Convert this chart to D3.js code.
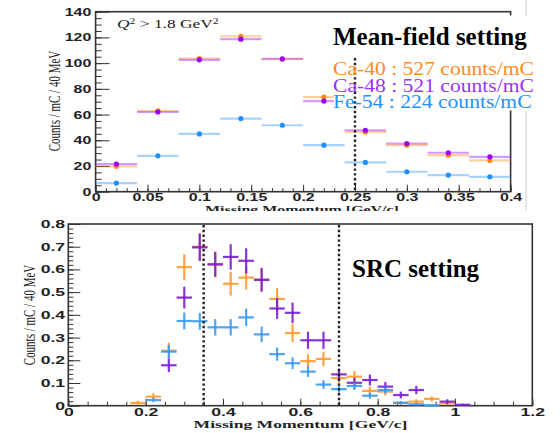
<!doctype html>
<html lang="en">
<head>
	<meta charset="UTF-8">
	<title>missing momentum</title>
	<script src="https://cdn.jsdelivr.net/npm/d3@7"></script>
	<style>
		body { margin: 0; background: #fff; }
		svg { display: block; font-family: "Liberation Serif", "DejaVu Serif", serif; }
		.axis .tick text { font-size: 11px; font-weight: bold; fill: #222; }
		.axis .tick line { stroke: #333; }
		.axis .domain { display: none; }
	</style>
</head>
<body>
<script>
	// ---- mean-field setting (top) ----
	var mfBins  = [0.02, 0.06, 0.10, 0.14, 0.18, 0.22, 0.26, 0.30, 0.34, 0.38];
	var mfCa40  = [19.7, 62.8, 103.6, 120.9, 103.0, 73.6, 46.5, 36.2, 28.4, 24.3];
	var mfCa48  = [21.5, 62.0, 102.6, 118.6, 103.4, 70.5, 47.8, 37.5, 30.3, 27.1];
	var mfFe54  = [6.7, 27.9, 44.9, 56.9, 51.7, 36.2, 22.8, 15.5, 12.9, 11.6];
	var mfXTicks = [0, 0.05, 0.1, 0.15, 0.2, 0.25, 0.3, 0.35, 0.4];
	var mfYTicks = [0, 20, 40, 60, 80, 100, 120, 140];

	// ---- SRC setting (bottom) ----
	var srcBins = [0.18, 0.22, 0.26, 0.30, 0.34, 0.38, 0.42, 0.46, 0.50, 0.54, 0.58,
		0.62, 0.66, 0.70, 0.74, 0.78, 0.82, 0.86, 0.90, 0.94, 0.98, 1.02];
	var srcCa40    = [0.012, 0.040, 0.242, 0.610, 0.700, 0.620, 0.537, 0.564, 0.555, 0.470, 0.320,
		0.196, 0.206, 0.122, 0.128, 0.065, 0.062, 0.012, 0.018, 0.030, 0.010, null];
	var srcCa40Err = [0.010, 0.015, 0.035, 0.057, 0.060, 0.055, 0.052, 0.053, 0.052, 0.048, 0.040,
		0.031, 0.032, 0.025, 0.025, 0.018, 0.018, 0.008, 0.010, 0.012, 0.007, null];
	var srcCa48    = [null, null, 0.178, 0.476, 0.697, 0.623, 0.655, 0.638, 0.554, 0.428, 0.409,
		0.288, 0.288, 0.138, 0.101, 0.113, 0.084, 0.047, 0.069, null, 0.018, 0.004];
	var srcCa48Err = [null, null, 0.030, 0.048, 0.060, 0.055, 0.056, 0.055, 0.052, 0.046, 0.045,
		0.038, 0.038, 0.026, 0.022, 0.024, 0.020, 0.015, 0.018, null, 0.010, 0.005];
	var srcFe54    = [null, 0.025, 0.238, 0.373, 0.372, 0.345, 0.345, 0.389, 0.314, 0.227, 0.187,
		0.150, 0.093, 0.073, 0.087, 0.044, 0.069, 0.013, 0.006, 0.002, null, null];
	var srcFe54Err = [null, 0.010, 0.030, 0.037, 0.037, 0.036, 0.036, 0.038, 0.034, 0.029, 0.026,
		0.023, 0.019, 0.016, 0.018, 0.013, 0.016, 0.007, 0.005, 0.003, null, null];
	var srcXTicks = [0, 0.2, 0.4, 0.6, 0.8, 1, 1.2];
	var srcYTicks = [0, 0.1, 0.2, 0.3, 0.4, 0.5, 0.6, 0.7, 0.8];

	var legendLabels = ['Ca-40 : 527 counts/mC', 'Ca-48 : 521 counts/mC', 'Fe-54 : 224 counts/mC'];
	var binHalf = 0.02;

	var w = 560,
		h = 433;

	var svg = d3.select('body').append('svg')
		.attr('width', w)
		.attr('height', h);

	/**
	* stretch text horizontally, the pasted plots are not kept in aspect
	*/
	var stretch = function(sel, sx) {
		sel.attr('transform', 'scale(' + sx + ',1)');
	};

	/**
	* draw ROOT style frame with inward ticks
	*/
	var drawFrame = function(g, x, y, o) {
		var xr = x.range(), yr = y.range();

		g.append('g').attr('class', 'axis')
			.attr('transform', 'translate(0,' + yr[0] + ')')
			.call(d3.axisBottom(x).tickValues(o.xMinor).tickSize(-o.xMinorLen).tickFormat(''));
		g.append('g').attr('class', 'axis')
			.attr('transform', 'translate(' + xr[0] + ',0)')
			.call(d3.axisLeft(y).tickValues(o.yMinor).tickSize(-o.yMinorLen).tickFormat(''));

		var xa = g.append('g').attr('class', 'axis')
			.attr('transform', 'translate(0,' + yr[0] + ')')
			.call(d3.axisBottom(x).tickValues(o.xTicks).tickSize(-o.xMajorLen)
				.tickPadding(o.xPad).tickFormat(function(d) { return String(d); }));
		stretch(xa.selectAll('text'), o.sx);

		var ya = g.append('g').attr('class', 'axis')
			.attr('transform', 'translate(' + xr[0] + ',0)')
			.call(d3.axisLeft(y).tickValues(o.yTicks).tickSize(-o.yMajorLen)
				.tickPadding(o.yPad).tickFormat(function(d) { return String(d); }));
		stretch(ya.selectAll('text'), o.sx);

		g.append('rect')
			.attr('x', xr[0]).attr('y', yr[1])
			.attr('width', xr[1] - xr[0]).attr('height', yr[0] - yr[1])
			.attr('fill', 'none').attr('stroke', '#333').attr('stroke-width', 1.6);

		g.append('text')
			.attr('transform', 'translate(' + o.xTitle[0] + ',' + o.xTitle[1] + ') scale(' + o.sx + ',1)')
			.attr('text-anchor', 'middle')
			.style('font-size', '11px').style('font-weight', 'bold').attr('fill', '#222')
			.text('Missing Momentum [GeV/c]');

		g.append('text')
			.attr('transform', 'translate(' + o.yTitle[0] + ',' + o.yTitle[1] + ') scale(' + o.sx + ',1) rotate(-90)')
			.attr('text-anchor', 'middle')
			.style('font-size', '11px').attr('fill', '#222')
			.text('Counts / mC / 40 MeV');
	};

	var dashed = function(g, xv, y0, y1) {
		g.append('line')
			.attr('x1', xv).attr('x2', xv).attr('y1', y0).attr('y2', y1)
			.attr('stroke', '#222').attr('stroke-width', 2.4)
			.attr('stroke-dasharray', '2.4,2.4');
	};

	// ================= top panel =================
	svg.append('clipPath').attr('id', 'topClip')
		.append('rect').attr('x', 0).attr('y', 0).attr('width', w).attr('height', 211);

	var topG = svg.append('g').attr('clip-path', 'url(#topClip)');

	var xTop = d3.scaleLinear().domain([0, 0.4]).range([95.6, 510.6]);
	var yTop = d3.scaleLinear().domain([0, 140]).range([191.7, 11.7]);

	// slide border line
	topG.append('line')
		.attr('x1', 526).attr('x2', 526).attr('y1', 0).attr('y2', 212)
		.attr('stroke', '#ccc').attr('stroke-width', 1);

	drawFrame(topG, xTop, yTop, {
		xTicks: mfXTicks, yTicks: mfYTicks,
		xMinor: d3.range(0, 0.401, 0.01), yMinor: d3.range(0, 141, 5),
		xMajorLen: 7, xMinorLen: 3.5, yMajorLen: 14, yMinorLen: 6,
		xPad: 2, yPad: 3, sx: 1.45,
		xTitle: [302, 212.5], yTitle: [60, 101]
	});

	topG.append('text')
		.attr('transform', 'translate(117,28) scale(1.45,1)')
		.style('font-size', '12px').attr('fill', '#222')
		.html('<tspan font-style="italic">Q</tspan><tspan dy="-4" font-size="8">2</tspan>' +
			'<tspan dy="4"> &gt; 1.8 GeV</tspan><tspan dy="-4" font-size="8">2</tspan>');

	var mfSeries = [
		{ vals: mfCa40, color: '#ff8a10' },
		{ vals: mfCa48, color: '#9a00ff' },
		{ vals: mfFe54, color: '#2090ff' }
	];

	mfSeries.forEach(function(s) {
		var sg = topG.append('g');
		sg.selectAll('line')
			.data(mfBins)
			.enter()
			.append('line')
			.attr('x1', function(d) { return xTop(d - binHalf); })
			.attr('x2', function(d) { return xTop(d + binHalf); })
			.attr('y1', function(d, i) { return yTop(s.vals[i]); })
			.attr('y2', function(d, i) { return yTop(s.vals[i]); })
			.attr('stroke', s.color).attr('stroke-opacity', 0.4).attr('stroke-width', 2.2);
		sg.selectAll('circle')
			.data(mfBins)
			.enter()
			.append('circle')
			.attr('cx', function(d) { return xTop(d); })
			.attr('cy', function(d, i) { return yTop(s.vals[i]); })
			.attr('r', 2.6)
			.attr('fill', s.color);
	});

	// white box pasted over the upper right corner
	topG.append('rect')
		.attr('x', 334).attr('y', 15.5).attr('width', 215).attr('height', 95)
		.attr('fill', '#fff');

	dashed(topG, xTop(0.25), 58, 191);

	topG.append('text')
		.attr('x', 333).attr('y', 45)
		.style('font-size', '25px').style('font-weight', 'bold').attr('fill', '#000')
		.text('Mean-field setting');

	var legendColors = ['#ff8c1a', '#9933ff', '#1e90ff'];
	topG.selectAll('text.legend')
		.data(legendLabels)
		.enter()
		.append('text')
		.attr('class', 'legend')
		.attr('transform', function(d, i) {
			return 'translate(333,' + (75 + i * 16.5) + ') scale(1.2,1)';
		})
		.style('font-size', '18px')
		.attr('fill', function(d, i) { return legendColors[i]; })
		.text(function(d) { return d; });

	// ================= bottom panel =================
	var botG = svg.append('g');

	var xBot = d3.scaleLinear().domain([0, 1.2]).range([68.3, 532.3]);
	var yBot = d3.scaleLinear().domain([0, 0.8]).range([405.7, 224]);

	drawFrame(botG, xBot, yBot, {
		xTicks: srcXTicks, yTicks: srcYTicks,
		xMinor: d3.range(0, 1.201, 0.05), yMinor: d3.range(0, 0.801, 0.02),
		xMajorLen: 7, xMinorLen: 4, yMajorLen: 12, yMinorLen: 5,
		xPad: 2.5, yPad: 2, sx: 1.6,
		xTitle: [300.5, 428], yTitle: [35, 315]
	});

	var srcSeries = [
		{ vals: srcCa40, err: srcCa40Err, color: '#ff9a30' },
		{ vals: srcCa48, err: srcCa48Err, color: '#7a1fd0' },
		{ vals: srcFe54, err: srcFe54Err, color: '#3a9af0' }
	];

	srcSeries.forEach(function(s) {
		var pts = srcBins.map(function(b, i) {
			return { x: b, v: s.vals[i], e: s.err[i] };
		}).filter(function(p) { return p.v !== null; });

		var sg = botG.append('g')
			.attr('stroke', s.color).attr('stroke-width', 2.2).attr('stroke-opacity', 0.9);
		sg.selectAll('line.h')
			.data(pts)
			.enter()
			.append('line')
			.attr('class', 'h')
			.attr('x1', function(d) { return xBot(d.x - binHalf); })
			.attr('x2', function(d) { return xBot(d.x + binHalf); })
			.attr('y1', function(d) { return yBot(d.v); })
			.attr('y2', function(d) { return yBot(d.v); });
		sg.selectAll('line.v')
			.data(pts)
			.enter()
			.append('line')
			.attr('class', 'v')
			.attr('x1', function(d) { return xBot(d.x); })
			.attr('x2', function(d) { return xBot(d.x); })
			.attr('y1', function(d) { return yBot(Math.max(0, d.v - d.e)); })
			.attr('y2', function(d) { return yBot(Math.min(0.8, d.v + d.e)); });
	});

	dashed(botG, xBot(0.35), 225, 405);
	dashed(botG, xBot(0.7), 225, 405);

	botG.append('text')
		.attr('x', 352).attr('y', 277)
		.style('font-size', '25px').style('font-weight', 'bold').attr('fill', '#000')
		.text('SRC setting');
</script>
</body>
</html>
